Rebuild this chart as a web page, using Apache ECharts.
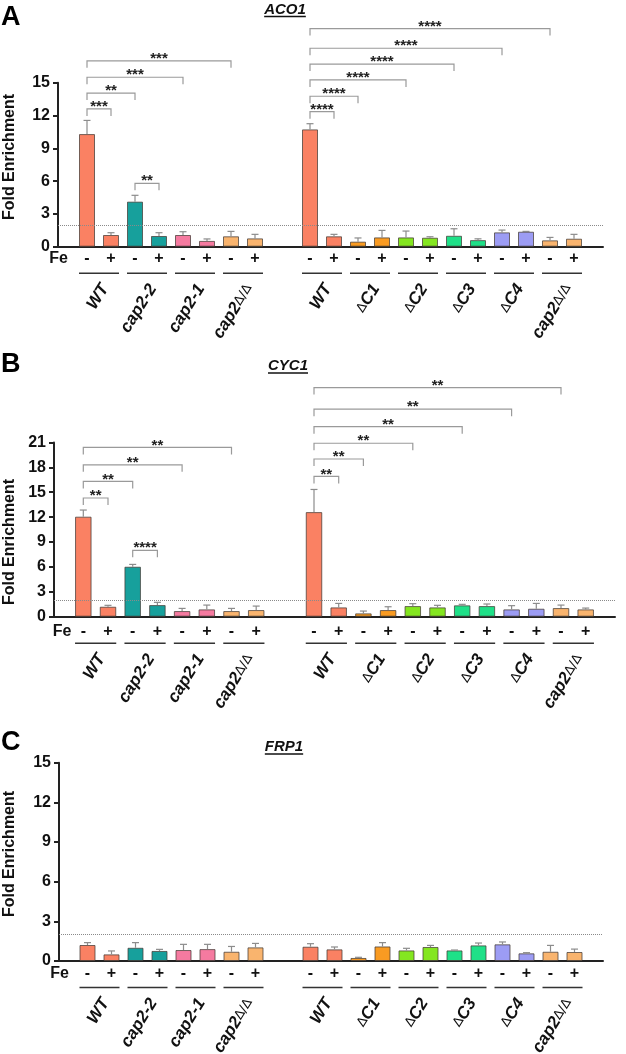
<!DOCTYPE html>
<html><head><meta charset="utf-8">
<script src="https://cdn.jsdelivr.net/npm/echarts@6/dist/echarts.min.js"></script>
<style>html,body{margin:0;padding:0;background:#fff}#c{width:626px;height:1054px}</style>
</head><body><div id="c"></div>
<script>
// ---------------- data ----------------
const leftGroups = ['WT', 'cap2-2', 'cap2-1', 'cap2Δ/Δ'];
const rightGroups = ['WT', 'ΔC1', 'ΔC2', 'ΔC3', 'ΔC4', 'cap2Δ/Δ'];
const feStates = ['-', '+'];
const geneNames = ['ACO1', 'CYC1', 'FRP1'];
const panelLetters = ['A', 'B', 'C'];
const yAxisTitle = 'Fold Enrichment';
const feLabel = 'Fe';
const threshold = 2;
const yMaxes = [15, 21, 15];
const yStep = 3;

// ACO1
const aco1LeftMean = [10.3, 1.07, 4.12, 0.98, 1.07, 0.53, 0.95, 0.76];
const aco1LeftErr = [1.25, 0.21, 0.58, 0.3, 0.3, 0.18, 0.45, 0.37];
const aco1RightMean = [10.73, 0.95, 0.46, 0.85, 0.85, 0.82, 1.0, 0.6, 1.31, 1.37, 0.58, 0.73];
const aco1RightErr = [0.52, 0.18, 0.34, 0.64, 0.58, 0.09, 0.64, 0.12, 0.21, 0.03, 0.27, 0.4];
const aco1LeftBrackets = [[0, 1, 12.6, '***'], [0, 2, 14.05, '**'], [0, 4, 15.5, '***'], [0, 6, 17.0, '***'], [2, 3, 5.8, '**']];
const aco1RightBrackets = [[0, 1, 12.35, '****'], [0, 2, 13.76, '****'], [0, 4, 15.25, '****'], [0, 6, 16.7, '****'], [0, 8, 18.15, '****'], [0, 10, 19.95, '****']];

// CYC1
const cyc1LeftMean = [12.05, 1.2, 6.02, 1.4, 0.68, 0.88, 0.68, 0.8];
const cyc1LeftErr = [0.8, 0.17, 0.28, 0.33, 0.32, 0.52, 0.32, 0.48];
const cyc1RightMean = [12.6, 1.12, 0.4, 0.8, 1.28, 1.12, 1.37, 1.28, 0.88, 0.96, 1.04, 0.88];
const cyc1RightErr = [2.73, 0.48, 0.28, 0.4, 0.29, 0.25, 0.12, 0.25, 0.45, 0.64, 0.36, 0.16];
const cyc1LeftBrackets = [[0, 1, 14.3, '**'], [0, 2, 16.3, '**'], [0, 4, 18.3, '**'], [0, 6, 20.4, '**'], [2, 3, 8.0, '****']];
const cyc1RightBrackets = [[0, 1, 16.9, '**'], [0, 2, 19.0, '**'], [0, 4, 20.9, '**'], [0, 6, 22.9, '**'], [0, 8, 25.0, '**'], [0, 10, 27.6, '**']];

// FRP1
const frp1LeftMean = [1.21, 0.5, 1.0, 0.76, 0.83, 0.9, 0.7, 1.03];
const frp1LeftErr = [0.18, 0.26, 0.39, 0.12, 0.43, 0.36, 0.4, 0.3];
const frp1RightMean = [1.08, 0.88, 0.23, 1.1, 0.8, 1.06, 0.8, 1.18, 1.26, 0.58, 0.7, 0.68];
const frp1RightErr = [0.23, 0.18, 0.05, 0.29, 0.16, 0.12, 0.03, 0.18, 0.18, 0.05, 0.48, 0.22];
const frp1LeftBrackets = [];
const frp1RightBrackets = [];

// ---------------- styles / layout ----------------
const FONT = "'Liberation Sans', Arial, Helvetica, sans-serif";
const leftColors = ['#FA8163', '#17A09C', '#F57AA0', '#F9B46E'];
const rightColors = ['#FA8163', '#F99B22', '#84E620', '#1FE088', '#9C9CF4', '#F9B46E'];
const layout = [
  {axisX: 58, axisEnd: 603, y0: 246.7, yTop: 82.7, firstL: 87, firstR: 310, step: 24, barW: 16, feDy: 11.5, feX: 68, letterY: 17.5, titleX: 285, titleY: 9.5, nameY: 157},
  {axisX: 54, axisEnd: 615, y0: 616.7, yTop: 442.4, firstL: 83.3, firstR: 314, step: 24.7, barW: 16.5, feDy: 15, feX: 71.5, letterY: 365, titleX: 288, titleY: 366, nameY: 542},
  {axisX: 59, axisEnd: 603, y0: 961, yTop: 762.7, firstL: 87.5, firstR: 310.5, step: 24, barW: 16, feDy: 13, feX: 69, letterY: 743, titleX: 284, titleY: 747, nameY: 854}
];

const panelsData = [
  {left: {mean: aco1LeftMean, err: aco1LeftErr, br: aco1LeftBrackets}, right: {mean: aco1RightMean, err: aco1RightErr, br: aco1RightBrackets}},
  {left: {mean: cyc1LeftMean, err: cyc1LeftErr, br: cyc1LeftBrackets}, right: {mean: cyc1RightMean, err: cyc1RightErr, br: cyc1RightBrackets}},
  {left: {mean: frp1LeftMean, err: frp1LeftErr, br: frp1LeftBrackets}, right: {mean: frp1RightMean, err: frp1RightErr, br: frp1RightBrackets}}
];

function groupRich(name) {
  return name.split(/(Δ\/Δ|Δ)/).filter(s => s).map(s =>
    s[0] === 'Δ' ? '{d|' + s.replace(/Δ/g, '∆') + '}' : '{b|' + s + '}').join('');
}
const richStyles = {
  b: {fontFamily: FONT, fontWeight: 'bold', fontStyle: 'italic', fontSize: 17, fill: '#111'},
  d: {fontFamily: "'DejaVu Sans', sans-serif", fontWeight: 'normal', fontSize: 13, fill: '#111'}
};

function errRender(params, api) {
  const x = api.value(0), m = api.value(1), e = api.value(2);
  const p0 = api.coord([x, m]), p1 = api.coord([x, m + e]);
  const cap = 3.5, st = {stroke: '#8c8c8c', lineWidth: 1.2};
  return {type: 'group', children: [
    {type: 'line', shape: {x1: p0[0], y1: p0[1], x2: p1[0], y2: p1[1]}, style: st},
    {type: 'line', shape: {x1: p1[0] - cap, y1: p1[1], x2: p1[0] + cap, y2: p1[1]}, style: st}
  ]};
}
function makeBracketRender(list) {
  return function (params, api) {
    const a = api.value(0), b = api.value(1), l = api.value(2);
    const p0 = api.coord([a, l]), p1 = api.coord([b, l]);
    const d = 7;
    return {type: 'group', children: [
      {type: 'polyline', shape: {points: [[p0[0], p0[1] + d], [p0[0], p0[1]], [p1[0], p1[1]], [p1[0], p1[1] + d]]},
        style: {stroke: '#9a9a9a', lineWidth: 1.2, fill: null}},
      {type: 'text', x: (p0[0] + p1[0]) / 2, y: p0[1] - 2,
        style: {text: list[params.dataIndex][3], fontFamily: FONT, fontWeight: 'bold', fontSize: 15, fill: '#222', align: 'center', verticalAlign: 'middle'}}
    ]};
  };
}
function makeGroupRender(names, barW) {
  return function (params, api) {
    const g = api.value(0);
    const c0 = api.coord([2 * g, 0]), c1 = api.coord([2 * g + 1, 0]);
    const y = c0[1];
    return {type: 'group', children: [
      {type: 'line', shape: {x1: c0[0] - barW / 2, y1: y + 26.5, x2: c1[0] + barW / 2, y2: y + 26.5}, style: {stroke: '#333', lineWidth: 1.5}},
      {type: 'text', x: (c0[0] + c1[0]) / 2 + 6, y: y + 39, rotation: 58 * Math.PI / 180,
        style: {text: groupRich(names[g]), rich: richStyles, align: 'right', verticalAlign: 'middle'}}
    ]};
  };
}

const grids = [], xAxes = [], yAxes = [], series = [], graphics = [];
const measureCtx = document.createElement('canvas').getContext('2d');

layout.forEach((L, p) => {
  const D = panelsData[p];
  const max = yMaxes[p];
  const height = L.y0 - L.yTop;
  const gA = grids.length;
  // axis grid
  grids.push({left: L.axisX, top: L.yTop, width: L.axisEnd - L.axisX, height: height});
  xAxes.push({gridIndex: gA, type: 'value', min: 0, max: 1, axisLine: {show: true, onZero: false, lineStyle: {color: '#222', width: 2}},
    axisTick: {show: false}, axisLabel: {show: false}, splitLine: {show: false}});
  yAxes.push({gridIndex: gA, type: 'value', min: 0, max: max, interval: yStep,
    axisLine: {show: true, lineStyle: {color: '#222', width: 2}},
    axisTick: {show: true, length: 5, lineStyle: {color: '#222', width: 2}},
    axisLabel: {fontFamily: FONT, fontWeight: 'bold', fontSize: 16, color: '#111', margin: 8},
    splitLine: {show: false}});
  series.push({type: 'line', xAxisIndex: gA, yAxisIndex: gA, data: [], z: 1,
    markLine: {silent: true, symbol: ['none', 'none'], label: {show: false}, animation: false,
      lineStyle: {type: 'dotted', color: '#8a8a8a', width: 1}, data: [{yAxis: threshold}]}});

  [['left', leftGroups, leftColors, L.firstL], ['right', rightGroups, rightColors, L.firstR]].forEach(([side, groups, colors, first]) => {
    const gi = grids.length;
    const cats = groups.flatMap(g => feStates.map(f => g + ' ' + f));
    const n = cats.length;
    grids.push({left: first - L.step / 2, top: L.yTop, width: n * L.step, height: height});
    xAxes.push({gridIndex: gi, type: 'category', data: cats, axisLine: {show: false}, axisTick: {show: false},
      axisLabel: {interval: 0, margin: L.feDy - 8, lineHeight: 16, fontFamily: FONT, fontWeight: 'bold', fontSize: 16, color: '#111',
        formatter: v => v.slice(-1)}});
    yAxes.push({gridIndex: gi, type: 'value', min: 0, max: max, show: false, splitLine: {show: false}});
    const S = D[side];
    series.push({type: 'bar', xAxisIndex: gi, yAxisIndex: gi, barWidth: L.barW, z: 3,
      data: S.mean.map((v, i) => ({value: v, itemStyle: {color: colors[Math.floor(i / 2)]}})),
      itemStyle: {borderColor: 'rgba(70,60,55,0.75)', borderWidth: 1}});
    series.push({type: 'custom', xAxisIndex: gi, yAxisIndex: gi, z: 4, renderItem: errRender,
      data: S.mean.map((v, i) => [i, v, S.err[i]])});
    if (S.br.length) {
      series.push({type: 'custom', xAxisIndex: gi, yAxisIndex: gi, z: 4, clip: false, renderItem: makeBracketRender(S.br),
        data: S.br.map(b => [b[0], b[1], b[2]])});
    }
    series.push({type: 'custom', xAxisIndex: gi, yAxisIndex: gi, z: 4, clip: false, renderItem: makeGroupRender(groups, L.barW),
      data: groups.map((g, i) => [i, 0])});
  });

  // decorations
  graphics.push({type: 'text', x: 1, y: L.letterY, style: {text: panelLetters[p], fontFamily: FONT, fontWeight: 'bold', fontSize: 27, fill: '#000', verticalAlign: 'middle'}});
  const tFont = 'italic bold 15px ' + FONT;
  measureCtx.font = tFont;
  const tw = measureCtx.measureText(geneNames[p]).width;
  graphics.push({type: 'text', x: L.titleX, y: L.titleY, style: {text: geneNames[p], fontFamily: FONT, fontWeight: 'bold', fontStyle: 'italic', fontSize: 15, fill: '#111', align: 'center', verticalAlign: 'middle'}});
  graphics.push({type: 'line', shape: {x1: L.titleX - tw / 2, y1: L.titleY + 7, x2: L.titleX + tw / 2, y2: L.titleY + 7}, style: {stroke: '#111', lineWidth: 1.3}});
  graphics.push({type: 'text', x: 10, y: L.nameY, rotation: Math.PI / 2, style: {text: yAxisTitle, fontFamily: FONT, fontWeight: 'bold', fontSize: 16, fill: '#111', align: 'center', verticalAlign: 'middle'}});
  graphics.push({type: 'text', x: L.feX, y: L.y0 + L.feDy, style: {text: feLabel, fontFamily: FONT, fontWeight: 'bold', fontSize: 16, fill: '#111', align: 'right', verticalAlign: 'middle'}});
});

const chart = echarts.init(document.getElementById('c'), null, {renderer: 'canvas'});
chart.setOption({
  animation: false,
  backgroundColor: '#fff',
  grid: grids.map(g => Object.assign({outerBoundsMode: 'none'}, g)),
  xAxis: xAxes,
  yAxis: yAxes,
  series: series,
  graphic: graphics
});
</script></body></html>
